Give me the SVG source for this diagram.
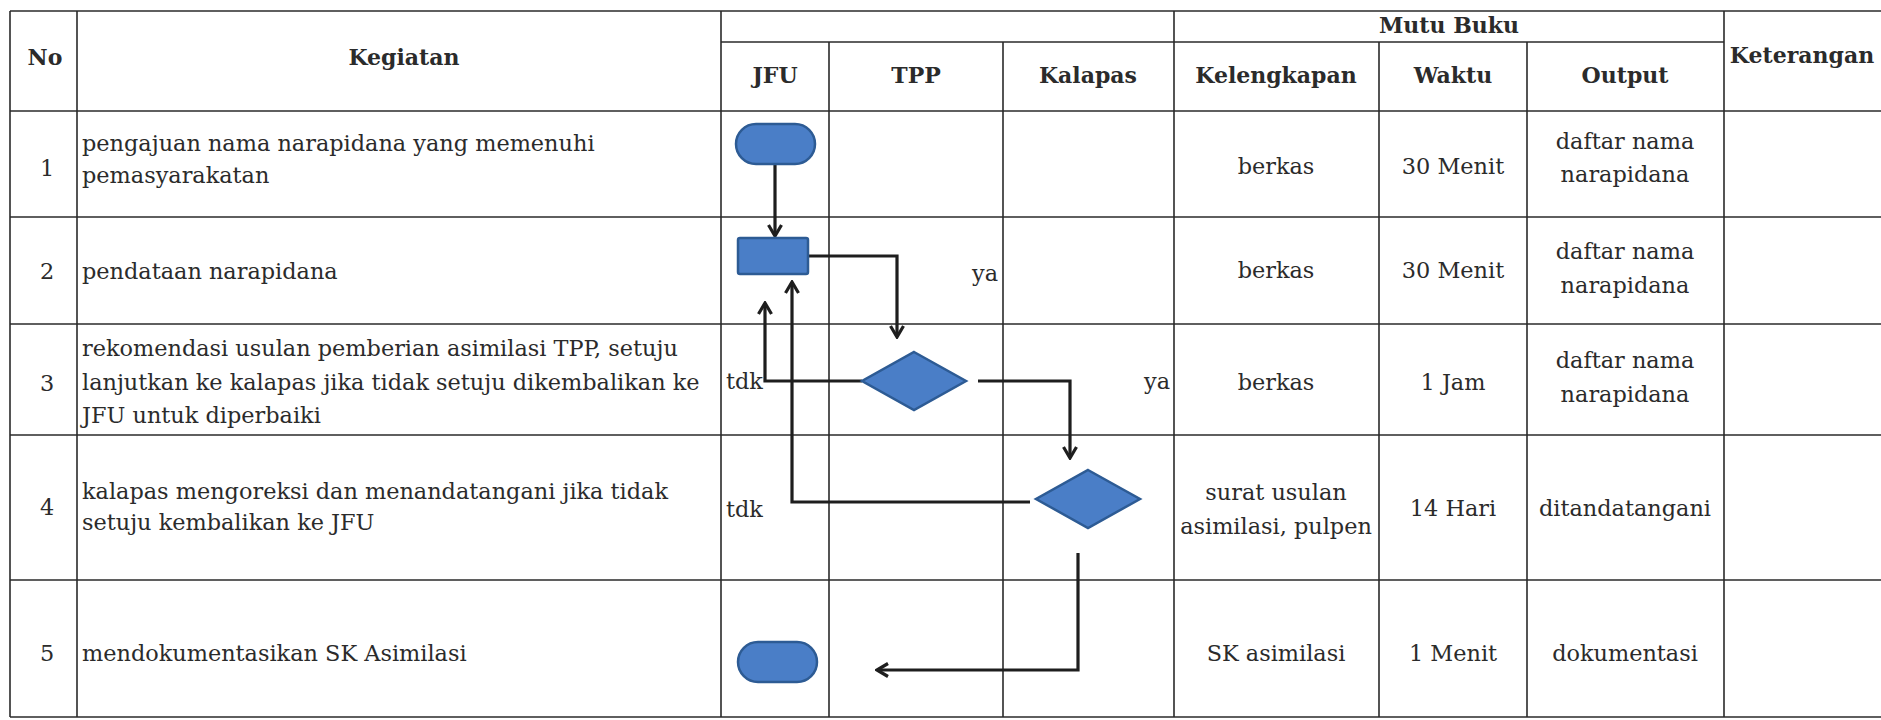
<svg xmlns="http://www.w3.org/2000/svg" width="1881" height="720" viewBox="0 0 1881 720">
<style>
.grid line{stroke:#2a2a2a;stroke-width:1.6}
.t{font-family:"DejaVu Serif","Liberation Serif",serif;font-size:22.4px;fill:#2b2b2b}
.h{font-family:"DejaVu Serif","Liberation Serif",serif;font-size:22px;font-weight:bold;fill:#2b2b2b}
.c{text-anchor:middle}
.shape{fill:#4a7ec7;stroke:#2d5b94;stroke-width:2.5}
.conn path{fill:none;stroke:#1e1e1e;stroke-width:3.2}
</style>
<defs>
<marker id="arr" viewBox="0 0 16 16" markerWidth="16" markerHeight="16" refX="14" refY="8" orient="auto" markerUnits="userSpaceOnUse">
<path d="M3,1.5 L14,8 L3,14.5" fill="none" stroke="#1e1e1e" stroke-width="3.2"/>
</marker>
</defs>
<rect width="1881" height="720" fill="#ffffff"/>
<g class="grid">
<line x1="10" y1="11" x2="1881" y2="11"/>
<line x1="721" y1="42" x2="1724" y2="42"/>
<line x1="10" y1="111" x2="1881" y2="111"/>
<line x1="10" y1="217" x2="1881" y2="217"/>
<line x1="10" y1="324" x2="1881" y2="324"/>
<line x1="10" y1="435" x2="1881" y2="435"/>
<line x1="10" y1="580" x2="1881" y2="580"/>
<line x1="10" y1="717" x2="1881" y2="717"/>
<line x1="10" y1="11" x2="10" y2="717"/>
<line x1="77" y1="11" x2="77" y2="717"/>
<line x1="721" y1="11" x2="721" y2="717"/>
<line x1="829" y1="42" x2="829" y2="717"/>
<line x1="1003" y1="42" x2="1003" y2="717"/>
<line x1="1174" y1="11" x2="1174" y2="717"/>
<line x1="1379" y1="42" x2="1379" y2="717"/>
<line x1="1527" y1="42" x2="1527" y2="717"/>
<line x1="1724" y1="11" x2="1724" y2="717"/>
</g>
<g id="header">
<text class="h c" x="45" y="65">No</text>
<text class="h c" x="404" y="65">Kegiatan</text>
<text class="h c" x="1449" y="33">Mutu Buku</text>
<text class="h c" x="775" y="83">JFU</text>
<text class="h c" x="916" y="83">TPP</text>
<text class="h c" x="1088" y="83">Kalapas</text>
<text class="h c" x="1276" y="83">Kelengkapan</text>
<text class="h c" x="1453" y="83">Waktu</text>
<text class="h c" x="1625" y="83">Output</text>
<text class="h c" x="1802" y="63">Keterangan</text>
</g>
<g id="rows">
<text class="t c" x="47" y="176">1</text>
<text class="t" x="82" y="151">pengajuan nama narapidana yang memenuhi</text>
<text class="t" x="82" y="183">pemasyarakatan</text>
<text class="t c" x="1276" y="174">berkas</text>
<text class="t c" x="1453" y="174">30 Menit</text>
<text class="t c" x="1625" y="149">daftar nama</text>
<text class="t c" x="1625" y="182">narapidana</text>

<text class="t c" x="47" y="279">2</text>
<text class="t" x="82" y="279">pendataan narapidana</text>
<text class="t c" x="1276" y="278">berkas</text>
<text class="t c" x="1453" y="278">30 Menit</text>
<text class="t c" x="1625" y="259">daftar nama</text>
<text class="t c" x="1625" y="293">narapidana</text>

<text class="t c" x="47" y="391">3</text>
<text class="t" x="82" y="356">rekomendasi usulan pemberian asimilasi TPP, setuju</text>
<text class="t" x="82" y="390">lanjutkan ke kalapas jika tidak setuju dikembalikan ke</text>
<text class="t" x="82" y="423">JFU untuk diperbaiki</text>
<text class="t c" x="1276" y="390">berkas</text>
<text class="t c" x="1453" y="390">1 Jam</text>
<text class="t c" x="1625" y="368">daftar nama</text>
<text class="t c" x="1625" y="402">narapidana</text>

<text class="t c" x="47" y="515">4</text>
<text class="t" x="82" y="499">kalapas mengoreksi dan menandatangani  jika tidak</text>
<text class="t" x="82" y="530">setuju kembalikan ke JFU</text>
<text class="t c" x="1276" y="500">surat usulan</text>
<text class="t c" x="1276" y="534">asimilasi, pulpen</text>
<text class="t c" x="1453" y="516">14 Hari</text>
<text class="t c" x="1625" y="516">ditandatangani</text>

<text class="t c" x="47" y="661">5</text>
<text class="t" x="82" y="661">mendokumentasikan SK Asimilasi</text>
<text class="t c" x="1276" y="661">SK asimilasi</text>
<text class="t c" x="1453" y="661">1 Menit</text>
<text class="t c" x="1625" y="661">dokumentasi</text>
</g>
<g id="connectors" class="conn">
<path d="M775,164 L775,236" marker-end="url(#arr)"/>
<path d="M808,256 L897,256 L897,337" marker-end="url(#arr)"/>
<path d="M862,381 L765,381 L765,303" marker-end="url(#arr)"/>
<path d="M978,381 L1070,381 L1070,458" marker-end="url(#arr)"/>
<path d="M1030,502 L792,502 L792,282" marker-end="url(#arr)"/>
<path d="M1078,553 L1078,670 L877,670" marker-end="url(#arr)"/>
</g>
<g id="labels">
<text class="t" x="998" y="281" text-anchor="end">ya</text>
<text class="t" x="726" y="389">tdk</text>
<text class="t" x="1170" y="389" text-anchor="end">ya</text>
<text class="t" x="726" y="517">tdk</text>
</g>
<g id="n1-start"><rect class="shape" x="736" y="124" width="79" height="40" rx="20"/></g>
<g id="n2-pendataan"><rect class="shape" x="738" y="238" width="70" height="36" rx="2"/></g>
<g id="n3-tpp-decision"><polygon class="shape" points="914,352 966,381 914,410 862,381"/></g>
<g id="n4-kalapas-decision"><polygon class="shape" points="1088,470 1140,499 1088,528 1036,499"/></g>
<g id="n5-end"><rect class="shape" x="738" y="642" width="79" height="40" rx="20"/></g>
</svg>
